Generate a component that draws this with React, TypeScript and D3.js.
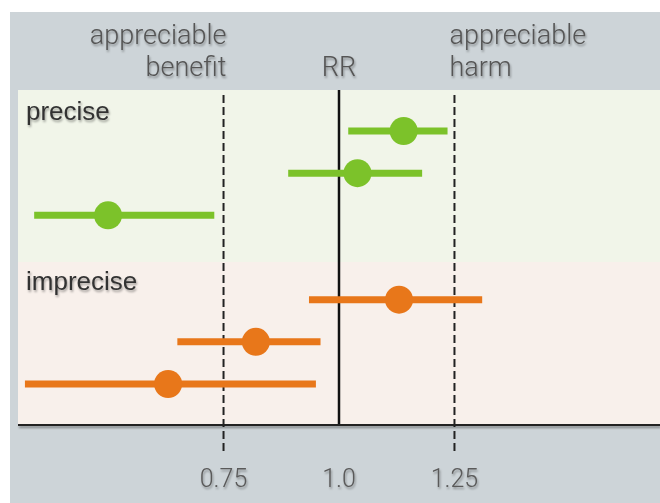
import * as d3 from 'd3';

const groups = ['precise', 'imprecise'];
const rowGroup = [0, 0, 0, 1, 1, 1];
const estimates = [1.14, 1.04, 0.5, 1.13, 0.82, 0.63];
const lower = [1.02, 0.89, 0.34, 0.935, 0.65, 0.32];
const upper = [1.235, 1.18, 0.73, 1.31, 0.96, 0.95];
const tickValues = [0.75, 1.0, 1.25];
const tickLabels = ['0.75', '1.0', '1.25'];
const thresholds = [0.75, 1.25];

const colors = ['#7cc22a', '#e8771a'];
const bandFills = ['#f1f5e9', '#f8f0eb'];

export default function App() {
  const width = 660;
  const height = 503;
  const panelLeft = 18;
  const panelTop = 90;
  const axisY = 425;
  const split = 262;

  const x = d3.scaleLinear().domain([0.305, 1.695]).range([panelLeft, width]);
  // row slot = index + group index, leaves a gap slot between groups
  const y = d3.scaleLinear().domain([0, 6]).range([131, 384]);

  const lightFont = 'Roboto, "Liberation Sans", Arial, sans-serif';
  const groupFont = '"Liberation Sans", Arial, sans-serif';

  return (
    <svg
      width={width}
      height={height}
      style={{ position: 'fixed', left: 0, top: 0 }}
    >
      <defs>
        <filter id='shadow' x='-20%' y='-40%' width='140%' height='180%'>
          <feDropShadow dx='1' dy='2' stdDeviation='1.3' floodColor='#000' floodOpacity='0.35' />
        </filter>
        <filter id='lineShadow' filterUnits='userSpaceOnUse' x='0' y='415' width='660' height='25'>
          <feDropShadow dx='1' dy='2' stdDeviation='1.3' floodColor='#000' floodOpacity='0.4' />
        </filter>
      </defs>
      <rect width={width} height={height} fill='#fff' />
      <rect x={10} y={12} width={width - 10} height={height - 12} fill='#cdd4d8' />

      {/* group bands */}
      <rect x={panelLeft} y={panelTop} width={width - panelLeft} height={split - panelTop} fill={bandFills[0]} />
      <rect x={panelLeft} y={split} width={width - panelLeft} height={axisY - split} fill={bandFills[1]} />

      {groups.map((g, i) => (
        <text
          key={g}
          x={26}
          y={i === 0 ? 120 : 290}
          fontFamily={groupFont}
          fontSize={26}
          fill='#333'
          filter='url(#shadow)'
        >
          {g}
        </text>
      ))}

      {/* threshold dashed lines */}
      {thresholds.map((t) => (
        <line
          key={t}
          x1={x(t)}
          x2={x(t)}
          y1={95}
          y2={455}
          stroke='#222'
          strokeWidth={2}
          strokeDasharray='8,4'
        />
      ))}

      {/* no-effect line */}
      <line x1={x(1)} x2={x(1)} y1={panelTop} y2={axisY} stroke='#111' strokeWidth={2.5} />

      {/* axis line */}
      <line
        x1={panelLeft}
        x2={width}
        y1={axisY}
        y2={axisY}
        stroke='#222'
        strokeWidth={2}
        filter='url(#lineShadow)'
      />

      {/* estimates */}
      {estimates.map((est, i) => {
        const cy = y(i + rowGroup[i]);
        const c = colors[rowGroup[i]];
        return (
          <g key={i}>
            <line x1={x(lower[i])} x2={x(upper[i])} y1={cy} y2={cy} stroke={c} strokeWidth={7} />
            <circle cx={x(est)} cy={cy} r={14} fill={c} />
          </g>
        );
      })}

      {/* tick labels */}
      {tickValues.map((t, i) => (
        <text
          key={t}
          x={x(t)}
          y={487}
          textAnchor='middle'
          fontFamily={lightFont}
          fontWeight={300}
          fontSize={25}
          fill='#5a5a5a'
          filter='url(#shadow)'
        >
          {tickLabels[i]}
        </text>
      ))}

      {/* header labels */}
      <g fontFamily={lightFont} fontWeight={300} fontSize={27} fill='#555' filter='url(#shadow)'>
        <text x={x(0.75) + 3} y={44} textAnchor='end'>appreciable</text>
        <text x={x(0.75) + 3} y={76} textAnchor='end'>benefit</text>
        <text x={x(1)} y={76} textAnchor='middle'>RR</text>
        <text x={x(1.25) - 5} y={44}>appreciable</text>
        <text x={x(1.25) - 5} y={76}>harm</text>
      </g>
    </svg>
  );
}
